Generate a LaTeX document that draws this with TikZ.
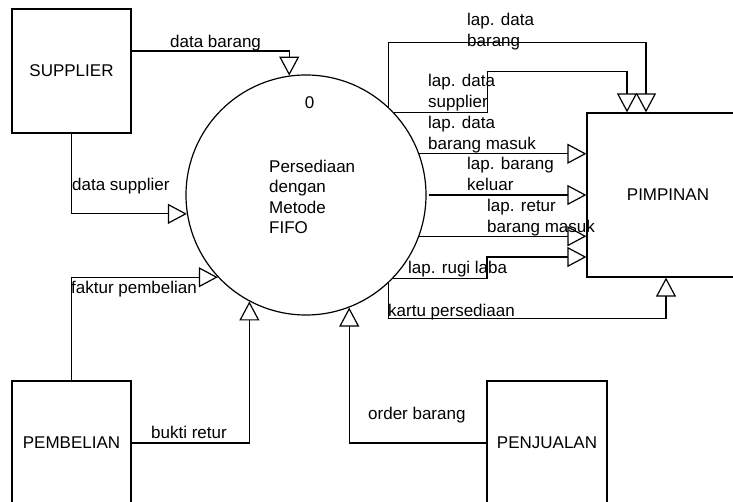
\documentclass[tikz,border=0pt]{standalone}
\usepackage{fontspec}
\setmainfont{Liberation Sans}
\usetikzlibrary{arrows.meta,positioning,calc}

\begin{document}
\begin{tikzpicture}[x=1pt, y=-1pt,
  >={Triangle[open, length=19pt, width=20pt]},
  font=\fontsize{17}{20.5}\selectfont,
  entity/.style={draw, line width=1.2pt, inner sep=0pt,
    minimum width=119pt, minimum height=124pt},
  proc/.style={draw, circle, line width=1.2pt, inner sep=0pt,
    minimum size=240pt},
  lbl/.style={anchor=base west, inner sep=0pt, align=left},
  flow/.style={->, line width=1.2pt}]

\useasboundingbox (0,0) rectangle (733,502);

% Nodes
\node[entity] (supplier) at (71.5,71) {SUPPLIER};
\node[entity] (pembelian) at (71.5,443) {PEMBELIAN};
\node[entity, minimum width=120pt] (penjualan) at (547,443) {PENJUALAN};
\node[entity, minimum width=162pt, minimum height=164pt] (pimpinan) at (668,195) {PIMPINAN};
\node[proc] (proc) at (306,195) {};
\node[anchor=base, inner sep=0pt] (procnum) at (309.5,108.3) {0};
\node[lbl] (proctxt) at (269,234) {Persediaan\\dengan\\Metode\\FIFO};

% Arrows
\draw[flow] ([yshift=20pt]supplier.east) -| (proc.98.1);
\draw[flow] (supplier.south) |- (proc.189.6);
\draw[flow] (pembelian.north) |- (proc.223.1);
\draw[flow] (pembelian.east) -| (proc.242.2);
\draw[flow] (penjualan.west) -| (proc.291);
\draw[flow] (proc.47) -- ++(0,-64) -| ([xshift=-22pt]pimpinan.north);
\draw[flow] (proc.43.1) -- ++(93.4,0) -- ++(0,-41) -| ([xshift=-41pt]pimpinan.north);
\draw[flow] (proc.20) -- (proc.20 -| pimpinan.west);
\draw[flow] ([xshift=2pt]proc.east) -- (pimpinan.west);
\draw[flow] (proc.340) -- (proc.340 -| pimpinan.west);
\draw[flow] (proc.316.25) -- ++(94.3,0) |- ([yshift=-62pt]pimpinan.west);
\draw[flow] (proc.313.1) -- ++(0,35.4) -| ([xshift=-2pt]pimpinan.south);

% Flow labels (base = last line)
\node[lbl] (lbarang) at (170,48) {data barang};
\node[lbl] (lsupplier) at (72,191) {data supplier};
\node[lbl] (lfaktur) at (71,294) {faktur pembelian};
\node[lbl] (lretur) at (151,438) {bukti retur};
\node[lbl] (lorder) at (368,419) {order barang};
\node[lbl] (llapbarang) at (467,46.5) {lap. data\\barang};
\node[lbl] (llapsupplier) at (428,107.5) {lap. data\\supplier};
\node[lbl] (llapmasuk) at (428,149.5) {lap. data\\barang masuk};
\node[lbl] (llapkeluar) at (467,190.5) {lap. barang\\keluar};
\node[lbl] (llapretur) at (487,232.5) {lap. retur\\barang masuk};
\node[lbl] (llaprugi) at (408,274) {lap. rugi laba};
\node[lbl] (lkartu) at (388,317) {kartu persediaan};

\end{tikzpicture}
\end{document}
